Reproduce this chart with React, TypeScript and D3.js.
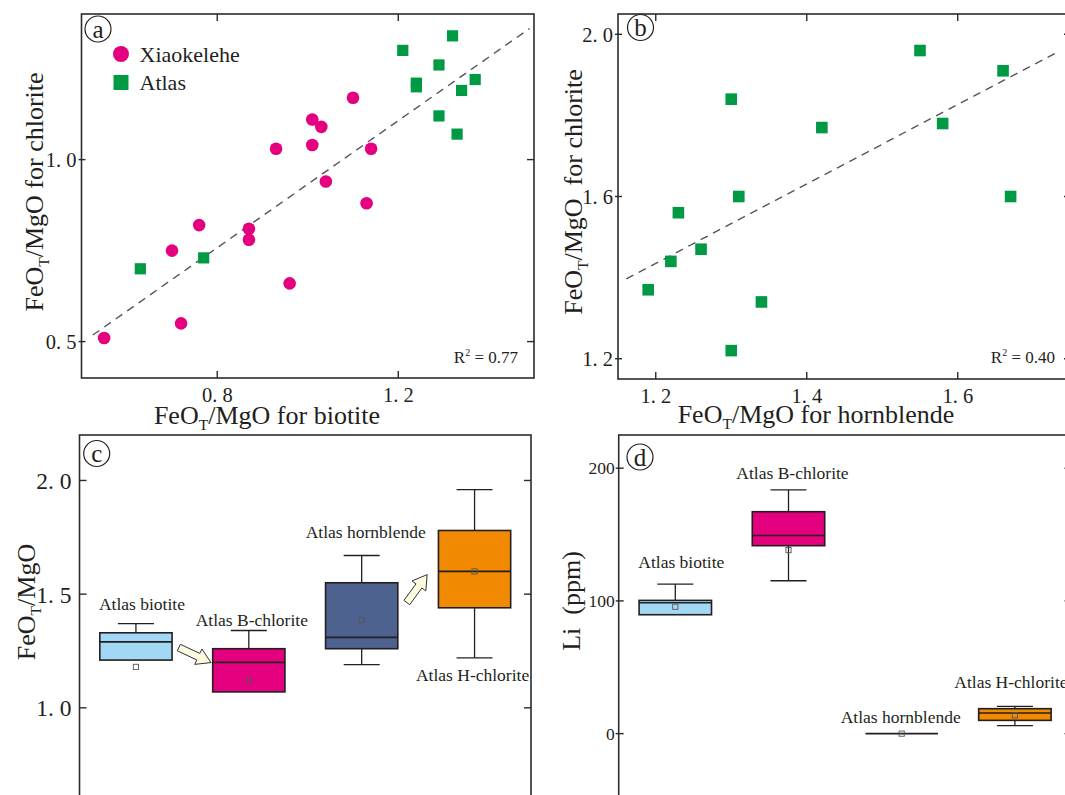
import React from 'react';
import * as d3 from 'd3';

const FONT = '"Liberation Serif", "Times New Roman", Times, serif';
const INK = '#231f20';
const AXIS = '#2b2b2b';
const PINK = '#e4007f';
const GREEN = '#009944';

// (a) FeOT/MgO of biotite vs chlorite
const xiaoBiotite = [1.10, 1.01, 1.03, 0.93, 1.01, 1.14, 1.04, 1.13, 0.76, 0.87, 0.87, 0.70, 0.96, 0.72, 0.55];
const xiaoChlorite = [1.17, 1.11, 1.09, 1.03, 1.04, 1.03, 0.94, 0.88, 0.82, 0.81, 0.78, 0.75, 0.66, 0.55, 0.51];
const atlasBiotite = [1.21, 1.32, 1.29, 1.24, 1.24, 1.37, 1.34, 1.29, 1.33, 0.63, 0.77];
const atlasChloriteB = [1.30, 1.34, 1.26, 1.21, 1.20, 1.22, 1.19, 1.12, 1.07, 0.70, 0.73];
const trendA = [[0.525, 0.518], [1.49, 1.36]];
const r2A = '0.77';

// (b) FeOT/MgO of hornblende vs chlorite
const atlasHornblende = [1.55, 1.66, 1.30, 1.42, 1.58, 1.31, 1.67, 1.23, 1.22, 1.26, 1.19, 1.34, 1.30];
const atlasChloriteH = [1.96, 1.91, 1.84, 1.77, 1.78, 1.60, 1.60, 1.56, 1.44, 1.47, 1.37, 1.34, 1.22];
const trendB = [[1.161, 1.397], [1.731, 1.955]];
const r2B = '0.40';

// (c) and (d) box plots
const categories = ['Atlas biotite', 'Atlas B-chlorite', 'Atlas hornblende', 'Atlas H-chlorite'];
const boxColors = ['#a3d8f4', '#e4007f', '#4e6290', '#f18a00'];

const ratioLow = [1.21, 1.07, 1.19, 1.22];
const ratioQ1 = [1.21, 1.07, 1.26, 1.44];
const ratioMedian = [1.29, 1.20, 1.31, 1.60];
const ratioQ3 = [1.33, 1.26, 1.55, 1.78];
const ratioHigh = [1.37, 1.34, 1.67, 1.96];
const ratioMean = [1.18, 1.12, 1.385, 1.60];

const liLow = [89.6, 115.2, 0, 6.0];
const liQ1 = [89.6, 141.6, 0, 10.0];
const liMedian = [98.6, 149.3, 0, 15.5];
const liQ3 = [100.4, 167.2, 0, 18.8];
const liHigh = [112.7, 183.7, 0, 20.5];
const liMean = [95.6, 138.3, 0, 13.8];

const spaced = (v: number) => d3.format('.1f')(v).replace('.', '. ');
const plain = (v: number) => d3.format('d')(v);

function FeoLabel({ fs, rest }: { fs: number; rest: string }) {
  const d = fs * 0.22;
  return (
    <>
      <tspan>FeO</tspan>
      <tspan fontSize={fs * 0.6} dy={d}>T</tspan>
      <tspan dy={-d}>{rest}</tspan>
    </>
  );
}

function Badge({ cx, cy, t }: { cx: number; cy: number; t: string }) {
  return (
    <g>
      <circle cx={cx} cy={cy} r={13} fill="none" stroke={INK} strokeWidth={1.2} />
      <text x={cx} y={cy} dy="0.34em" textAnchor="middle" fontSize={25} fill={INK}>{t}</text>
    </g>
  );
}

function R2({ x, y, v }: { x: number; y: number; v: string }) {
  return (
    <text x={x} y={y} textAnchor="end" fontSize={17} fill={INK} style={{ whiteSpace: 'pre' }}>
      R<tspan fontSize={10} dy={-7}>2</tspan><tspan dy={7}>{' = ' + v}</tspan>
    </text>
  );
}

type FrameProps = {
  x0: number; x1: number; y0: number; y1: number;
  y: d3.ScaleLinear<number, number>; yTicks: number[]; yFmt: (v: number) => string;
  yFont: number; yGap: number; leftOut: number; leftIn: number;
  x?: d3.ScaleLinear<number, number>; xTicks?: number[]; xFont?: number;
};

function Frame(p: FrameProps) {
  return (
    <g>
      <rect x={p.x0} y={p.y0} width={p.x1 - p.x0} height={p.y1 - p.y0} fill="none" stroke={AXIS} strokeWidth={1.6} />
      {p.yTicks.map(t => (
        <g key={'y' + t}>
          <line x1={p.x0 - p.leftOut} x2={p.x0 + p.leftIn} y1={p.y(t)} y2={p.y(t)} stroke={AXIS} strokeWidth={1.4} />
          <line x1={p.x1 - 7} x2={p.x1} y1={p.y(t)} y2={p.y(t)} stroke={AXIS} strokeWidth={1.4} />
          <text x={p.x0 - p.yGap} y={p.y(t)} dy="0.36em" textAnchor="end" fontSize={p.yFont} fill={INK} style={{ whiteSpace: 'pre' }}>
            {p.yFmt(t)}
          </text>
        </g>
      ))}
      {p.x && p.xTicks && p.xTicks.map(t => (
        <g key={'x' + t}>
          <line x1={p.x!(t)} x2={p.x!(t)} y1={p.y1} y2={p.y1 - 7} stroke={AXIS} strokeWidth={1.4} />
          <line x1={p.x!(t)} x2={p.x!(t)} y1={p.y0} y2={p.y0 + 7} stroke={AXIS} strokeWidth={1.4} />
          <text x={p.x!(t)} y={p.y1 + 23.5} textAnchor="middle" fontSize={p.xFont} fill={INK} style={{ whiteSpace: 'pre' }}>
            {spaced(t)}
          </text>
        </g>
      ))}
    </g>
  );
}

function PanelA() {
  const x0 = 81.5, x1 = 534, y0 = 14, y1 = 378;
  const x = d3.scaleLinear().domain([0.5, 1.5]).range([x0, x1]);
  const y = d3.scaleLinear().domain([0.4, 1.4]).range([y1, y0]);
  const line = d3.line<number[]>().x(d => x(d[0])).y(d => y(d[1]));
  return (
    <g>
      <Frame x0={x0} x1={x1} y0={y0} y1={y1} y={y} yTicks={[0.5, 1.0]} yFmt={spaced} yFont={20.5} yGap={5}
        leftOut={3} leftIn={4} x={x} xTicks={[0.8, 1.2]} xFont={20.5} />
      <path d={line(trendA) || ''} fill="none" stroke="#555" strokeWidth={1.4} strokeDasharray="8 6" />
      {xiaoBiotite.map((v, i) => (
        <circle key={'x' + i} cx={x(v)} cy={y(xiaoChlorite[i])} r={6.3} fill={PINK} />
      ))}
      {atlasBiotite.map((v, i) => (
        <rect key={'a' + i} x={x(v) - 5.6} y={y(atlasChloriteB[i]) - 5.6} width={11.2} height={11.2} fill={GREEN} />
      ))}
      <circle cx={121} cy={54} r={8} fill={PINK} />
      <text x={139.5} y={62} fontSize={22} fill={INK}>Xiaokelehe</text>
      <rect x={113.5} y={75} width={15} height={15} fill={GREEN} />
      <text x={139.5} y={89.5} fontSize={22} fill={INK}>Atlas</text>
      <Badge cx={98} cy={29} t="a" />
      <R2 x={518} y={363} v={r2A} />
      <text x={267} y={424} textAnchor="middle" fontSize={26} fill={INK}>
        <FeoLabel fs={26} rest="/MgO for biotite" />
      </text>
      <text transform="translate(43,192) rotate(-90)" textAnchor="middle" fontSize={26} fill={INK}>
        <FeoLabel fs={26} rest="/MgO for chlorite" />
      </text>
    </g>
  );
}

function PanelB() {
  const x0 = 618, x1 = 1071, y0 = 14, y1 = 379;
  const x = d3.scaleLinear().domain([1.15, 1.75]).range([x0, x1]);
  const y = d3.scaleLinear().domain([1.15, 2.05]).range([y1, y0]);
  const line = d3.line<number[]>().x(d => x(d[0])).y(d => y(d[1]));
  return (
    <g>
      <Frame x0={x0} x1={x1} y0={y0} y1={y1} y={y} yTicks={[1.2, 1.6, 2.0]} yFmt={spaced} yFont={20.5} yGap={5}
        leftOut={3} leftIn={4} x={x} xTicks={[1.2, 1.4, 1.6]} xFont={20.5} />
      <path d={line(trendB) || ''} fill="none" stroke="#555" strokeWidth={1.4} strokeDasharray="8 6" />
      {atlasHornblende.map((v, i) => (
        <rect key={i} x={x(v) - 5.8} y={y(atlasChloriteH[i]) - 5.8} width={11.6} height={11.6} fill={GREEN} />
      ))}
      <Badge cx={640.5} cy={27.5} t="b" />
      <R2 x={1055} y={363} v={r2B} />
      <text x={816} y={423} textAnchor="middle" fontSize={26} fill={INK}>
        <FeoLabel fs={26} rest="/MgO for hornblende" />
      </text>
      <text transform="translate(582,192) rotate(-90)" textAnchor="middle" fontSize={26} fill={INK} style={{ whiteSpace: 'pre' }}>
        <FeoLabel fs={26} rest="/MgO  for chlorite" />
      </text>
    </g>
  );
}

type LabelPos = { above: boolean; dx: number; gap: number };

type BoxProps = {
  x0: number; x1: number; y0: number; y1: number; domain: [number, number];
  ticks: number[]; fmt: (v: number) => string; tickFont: number; tickGap: number; leftOut: number; leftIn: number;
  low: number[]; q1: number[]; med: number[]; q3: number[]; high: number[]; mean: number[];
  labels: LabelPos[]; children?: React.ReactNode;
  arrows?: { from: [number, number, number]; to: [number, number, number] }[];
};

function arrowPath(xa: number, ya: number, xb: number, yb: number) {
  const L = Math.hypot(xb - xa, yb - ya);
  const sw = 3.6, hw = 8.5, hl = 14;
  const pts = [[0, -sw], [L - hl, -sw], [L - hl, -hw], [L, 0], [L - hl, hw], [L - hl, sw], [0, sw]];
  const ang = Math.atan2(yb - ya, xb - xa);
  const c = Math.cos(ang), s = Math.sin(ang);
  return 'M' + pts.map(([u, v]) => `${xa + u * c - v * s},${ya + u * s + v * c}`).join('L') + 'Z';
}

function BoxPanel(p: BoxProps) {
  const x = d3.scalePoint<string>().domain(categories).range([p.x0, p.x1]).padding(0.5);
  const y = d3.scaleLinear().domain(p.domain).range([p.y1, p.y0]);
  const step = x.step();
  const bw = step * 0.64;
  const cap = 36;
  return (
    <g>
      <Frame x0={p.x0} x1={p.x1} y0={p.y0} y1={p.y1} y={y} yTicks={p.ticks} yFmt={p.fmt} yFont={p.tickFont}
        yGap={p.tickGap} leftOut={p.leftOut} leftIn={p.leftIn} />
      {categories.map((c, i) => {
        const cx = x(c)!;
        const lab = p.labels[i];
        const ly = lab.above ? y(p.high[i]) - lab.gap : y(p.low[i]) + lab.gap;
        return (
          <g key={c}>
            {p.high[i] > p.q3[i] && (
              <g stroke={INK} strokeWidth={1.3}>
                <line x1={cx} x2={cx} y1={y(p.q3[i])} y2={y(p.high[i])} />
                <line x1={cx - cap / 2} x2={cx + cap / 2} y1={y(p.high[i])} y2={y(p.high[i])} />
              </g>
            )}
            {p.low[i] < p.q1[i] && (
              <g stroke={INK} strokeWidth={1.3}>
                <line x1={cx} x2={cx} y1={y(p.q1[i])} y2={y(p.low[i])} />
                <line x1={cx - cap / 2} x2={cx + cap / 2} y1={y(p.low[i])} y2={y(p.low[i])} />
              </g>
            )}
            <rect x={cx - bw / 2} y={y(p.q3[i])} width={bw} height={y(p.q1[i]) - y(p.q3[i])}
              fill={boxColors[i]} stroke={INK} strokeWidth={1.6} />
            <line x1={cx - bw / 2} x2={cx + bw / 2} y1={y(p.med[i])} y2={y(p.med[i])} stroke={INK} strokeWidth={1.6} />
            <rect x={cx - 2.6} y={y(p.mean[i]) - 2.6} width={5.2} height={5.2} fill="none" stroke="#555" strokeWidth={0.9} />
            <text x={cx + lab.dx} y={ly} textAnchor="middle" fontSize={17.5} fill={INK}>{c}</text>
          </g>
        );
      })}
      {(p.arrows || []).map((a, i) => {
        const xa = x(categories[a.from[0]])! + a.from[1] * step;
        const xb = x(categories[a.to[0]])! + a.to[1] * step;
        return (
          <path key={i} d={arrowPath(xa, y(a.from[2]), xb, y(a.to[2]))} fill="#fdfbe0" stroke="#333" strokeWidth={1} />
        );
      })}
      {p.children}
    </g>
  );
}

export default function App() {
  return (
    <svg width={1065} height={795} viewBox="0 0 1065 795"
      style={{ position: 'absolute', left: 0, top: 0, background: '#fff' }} fontFamily={FONT}>
      <rect width={1065} height={795} fill="#fff" />
      <PanelA />
      <PanelB />
      <BoxPanel x0={79.5} x1={531} y0={435} y1={821.5} domain={[0.5, 2.2]} ticks={[1.0, 1.5, 2.0]} fmt={spaced}
        tickFont={23.5} tickGap={8} leftOut={0} leftIn={7}
        low={ratioLow} q1={ratioQ1} med={ratioMedian} q3={ratioQ3} high={ratioHigh} mean={ratioMean}
        labels={[{ above: true, dx: 6, gap: 14 }, { above: true, dx: 3, gap: 5 }, { above: true, dx: 4, gap: 17 }, { above: false, dx: -2, gap: 23 }]}
        arrows={[{ from: [0, 0.38, 1.265], to: [1, -0.335, 1.199] }, { from: [2, 0.40, 1.463], to: [3, -0.42, 1.586] }]}>
        <Badge cx={96.7} cy={453.5} t="c" />
        <text transform="translate(35,602) rotate(-90)" textAnchor="middle" fontSize={26} fill={INK}>
          <FeoLabel fs={26} rest="/MgO" />
        </text>
      </BoxPanel>
      <BoxPanel x0={618.7} x1={1071.5} y0={435} y1={800} domain={[-50, 225]} ticks={[0, 100, 200]} fmt={plain}
        tickFont={17.5} tickGap={4} leftOut={3} leftIn={5}
        low={liLow} q1={liQ1} med={liMedian} q3={liQ3} high={liHigh} mean={liMean}
        labels={[{ above: true, dx: 6, gap: 16 }, { above: true, dx: 4, gap: 11 }, { above: true, dx: -1, gap: 11 }, { above: true, dx: -4, gap: 18 }]}>
        <Badge cx={640} cy={457} t="d" />
        <text transform="translate(580,601) rotate(-90)" textAnchor="middle" fontSize={26} fill={INK} style={{ whiteSpace: 'pre' }}>
          {'Li  (ppm)'}
        </text>
      </BoxPanel>
    </svg>
  );
}
